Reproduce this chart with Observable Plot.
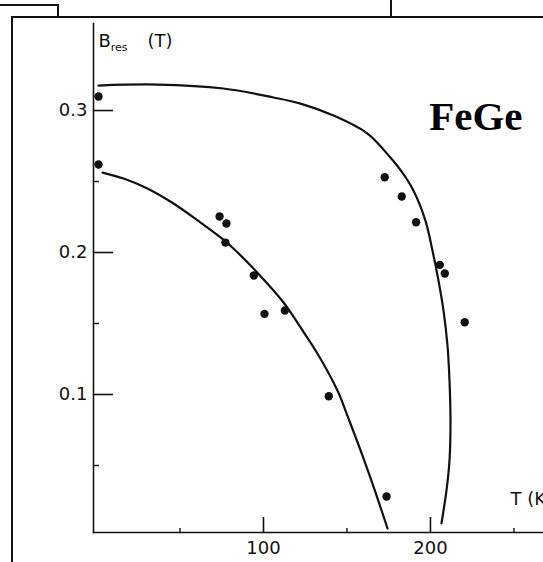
<!DOCTYPE html>
<html>
<head>
<meta charset="utf-8">
<script src="https://cdn.jsdelivr.net/npm/d3@7"></script>
<script src="https://cdn.jsdelivr.net/npm/@observablehq/plot@0.6"></script>
<style>
  html, body { margin: 0; padding: 0; background: #fff; }
  #wrap { position: relative; width: 543px; height: 562px; overflow: hidden; }
  #wrap svg { position: absolute; left: 0; top: 0; }
  .ln { position: absolute; background: #111; }
</style>
</head>
<body>
<div id="wrap">
  <div class="ln" style="left:0;top:4px;width:59px;height:2px"></div>
  <div class="ln" style="left:57px;top:4px;width:2px;height:14px"></div>
  <div class="ln" style="left:390px;top:0;width:2px;height:17px"></div>
  <div class="ln" style="left:11px;top:16px;width:532px;height:2px"></div>
  <div class="ln" style="left:11px;top:16px;width:2px;height:546px"></div>
</div>
<script>
// Measured points (T in K, B_res in T)
const pointT = [1.2, 1.2, 73.7, 77.8, 77.2, 94.2, 100.6, 112.8, 139.1, 173.7, 172.6, 182.8, 191.4, 205.6, 208.6, 220.5];
const pointB = [0.3099, 0.262, 0.2254, 0.2204, 0.207, 0.1838, 0.1568, 0.1592, 0.0988, 0.0282, 0.253, 0.2394, 0.2213, 0.1913, 0.1852, 0.1509];

// Upper curve
const upperT = [1.2, 36.5, 76.0, 106.0, 122.2, 141.9, 162.3, 176.0, 183.2, 189.8, 197.0, 201.2, 204.8, 207.8, 210.2, 211.4, 212.0, 211.4, 209.6, 206.6];
const upperB = [0.3176, 0.3183, 0.3155, 0.3092, 0.3049, 0.2965, 0.2838, 0.2669, 0.2563, 0.2437, 0.2225, 0.2014, 0.1803, 0.1592, 0.1345, 0.1099, 0.0817, 0.0535, 0.0324, 0.0092];

// Lower curve
const lowerT = [3.6, 16.2, 30.5, 46.1, 62.3, 74.3, 82.0, 94.0, 112.0, 122.2, 132.3, 144.3, 150.9, 159.3, 167.1, 174.3];
const lowerB = [0.2563, 0.2521, 0.2451, 0.2345, 0.2211, 0.2106, 0.2028, 0.1887, 0.1648, 0.1472, 0.1289, 0.1028, 0.0831, 0.0570, 0.0310, 0.0056];

// Axis ticks
const yMajor = [0.1, 0.2, 0.3];
const yMajorLabels = ["0.1", "0.2", "0.3"];
const yMinor = [0.05, 0.15, 0.25];
const xMajor = [100, 200];
const xMajorLabels = ["100", "200"];
const xMinor = [50, 150, 250];

const points = pointT.map((t, i) => ({T: t, B: pointB[i]}));
const upper = upperT.map((t, i) => ({T: t, B: upperB[i]}));
const lower = lowerT.map((t, i) => ({T: t, B: lowerB[i]}));

const FONT = "DejaVu Sans";

const chart = Plot.plot({
  width: 543,
  height: 562,
  marginLeft: 93,
  marginRight: 0,
  marginTop: 23,
  marginBottom: 30,
  style: {background: "transparent", fontFamily: FONT, overflow: "hidden"},
  x: {domain: [-1.8, 267.7], axis: null},
  y: {domain: [0.0028, 0.3613], axis: null},
  marks: [
    Plot.frame({anchor: "left", stroke: "#111", strokeWidth: 1.6}),
    Plot.frame({anchor: "bottom", stroke: "#111", strokeWidth: 1.6}),
    Plot.axisY({ticks: yMajor, label: null, tickSize: -20, tickFormat: () => "", strokeWidth: 1.6, stroke: "#111"}),
    Plot.axisY({ticks: yMinor, label: null, tickSize: -6, tickFormat: () => "", strokeWidth: 1.4, stroke: "#111"}),
    Plot.axisY({ticks: yMajor, label: null, tickSize: 0, tickPadding: 6, tickFormat: (d, i) => yMajorLabels[i],
      fontSize: 18, fontFamily: FONT, fill: "#111"}),
    Plot.axisX({ticks: xMajor, label: null, tickSize: -15, tickFormat: () => "", strokeWidth: 1.6, stroke: "#111"}),
    Plot.axisX({ticks: xMinor, label: null, tickSize: -4, tickFormat: () => "", strokeWidth: 1.4, stroke: "#111"}),
    Plot.axisX({ticks: xMajor, label: null, tickSize: 0, tickPadding: 9, tickFormat: (d, i) => xMajorLabels[i],
      fontSize: 18, fontFamily: FONT, fill: "#111"}),
    Plot.line(upper, {x: "T", y: "B", curve: "catmull-rom", stroke: "#111", strokeWidth: 2.2}),
    Plot.line(lower, {x: "T", y: "B", curve: "catmull-rom", stroke: "#111", strokeWidth: 2.2}),
    Plot.dot(points, {x: "T", y: "B", r: 4.2, fill: "#111", stroke: "none"}),
    Plot.text(["FeGe"], {frameAnchor: "top-right", textAnchor: "end", dx: -21, dy: 77,
      fontFamily: "Liberation Serif", fontWeight: "bold", fontSize: 41, fill: "#000"}),
    Plot.text(["T (K)"], {frameAnchor: "bottom-right", textAnchor: "start", dx: -33, dy: -28,
      fontFamily: FONT, fontSize: 18, fill: "#111"})
  ]
});

document.getElementById("wrap").prepend(chart);

// Y-axis title with subscript
const svg = d3.select(chart);
const lab = svg.append("text")
  .attr("x", 113).attr("y", 47)
  .attr("font-family", FONT).attr("font-size", 18).attr("fill", "#111");
lab.append("tspan").text("B");
lab.append("tspan").attr("font-size", 11).attr("dy", 4).text("res");
lab.append("tspan").attr("x", 160).attr("dy", -4).text("(T)");
</script>
</body>
</html>
